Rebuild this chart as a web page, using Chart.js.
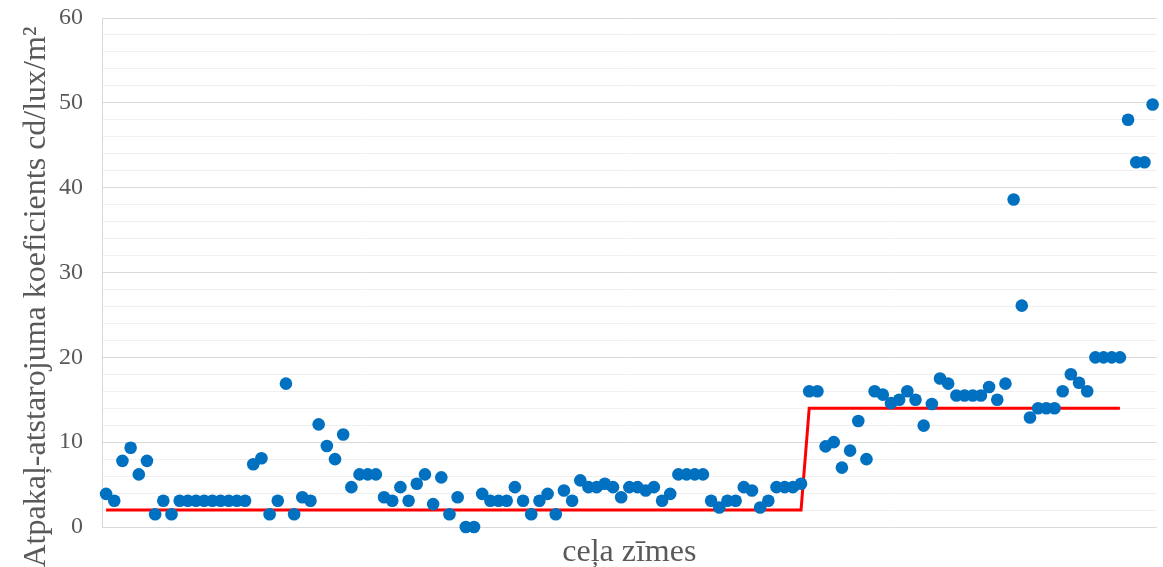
<!DOCTYPE html>
<html>
<head>
<meta charset="utf-8">
<title>Atpakaļ-atstarojuma koeficients</title>
<script src="https://cdn.jsdelivr.net/npm/chart.js@4.4.1/dist/chart.umd.min.js"></script>
<style>
  html, body { margin: 0; padding: 0; background: #ffffff; }
  #wrap { position: relative; width: 1163px; height: 567px; }
</style>
</head>
<body>
<div id="wrap"><canvas id="chart" width="1163" height="567"></canvas></div>
<script>
// Measured retroreflection coefficient of each road sign, cd/lux/m²
const retro = [
  3.9, 3.1, 7.8, 9.35, 6.2, 7.8, 1.5, 3.1, 1.5, 3.1,
  3.1, 3.1, 3.1, 3.1, 3.1, 3.1, 3.1, 3.1, 7.4, 8.1,
  1.5, 3.1, 16.9, 1.5, 3.5, 3.1, 12.1, 9.55, 8.0, 10.9,
  4.7, 6.2, 6.2, 6.2, 3.5, 3.1, 4.7, 3.1, 5.1, 6.2,
  2.7, 5.85, 1.5, 3.5, 0, 0, 3.9, 3.1, 3.1, 3.1,
  4.7, 3.1, 1.5, 3.1, 3.9, 1.5, 4.3, 3.1, 5.5, 4.7,
  4.7, 5.1, 4.7, 3.5, 4.7, 4.7, 4.3, 4.7, 3.1, 3.9,
  6.2, 6.2, 6.2, 6.2, 3.1, 2.3, 3.1, 3.1, 4.7, 4.3,
  2.3, 3.1, 4.7, 4.7, 4.7, 5.1, 16.0, 16.0, 9.5, 10.0,
  7.0, 9.0, 12.5, 8.0, 16.0, 15.6, 14.6, 15.0, 16.0, 15.0,
  11.95, 14.5, 17.5, 16.9, 15.5, 15.5, 15.5, 15.5, 16.5, 15.0,
  16.9, 38.6, 26.1, 12.9, 14.0, 14.0, 14.0, 16.0, 18.0, 17.0,
  16.0, 20.0, 20.0, 20.0, 20.0, 48.0, 43.0, 43.0, 49.8
];

// Sign numbers (category positions along the horizontal axis)
const signs = retro.map((_, i) => i + 1);

// Minimum required coefficient: step from the first group of signs to the second
const limitSigns = [1, 86, 87, 125];
const limitValues = [2, 2, 14, 14];

// Labelled values on the vertical axis
const yTickLabels = [0, 10, 20, 30, 40, 50, 60];

const xTitle = 'ceļa zīmes';
const yTitle = 'Atpakaļ-atstarojuma koeficients cd/lux/m²';

const serif = "'Liberation Serif', 'Times New Roman', serif";
const textGrey = '#595959';

const pointsData = signs.map((s, i) => ({ x: s, y: retro[i] }));
const limitData = limitSigns.map((s, i) => ({ x: s, y: limitValues[i] }));

// Rotated vertical axis title, placed alongside the whole chart height
const yTitlePlugin = {
  id: 'yTitle',
  afterDraw(chart) {
    const ctx = chart.ctx;
    ctx.save();
    ctx.translate(45, 297);
    ctx.rotate(-Math.PI / 2);
    ctx.font = '32px ' + serif;
    ctx.fillStyle = textGrey;
    ctx.textAlign = 'center';
    ctx.textBaseline = 'alphabetic';
    ctx.fillText(yTitle, 0, 0);
    ctx.restore();
  }
};

new Chart(document.getElementById('chart'), {
  type: 'scatter',
  data: {
    datasets: [
      {
        label: 'koeficients',
        data: pointsData,
        backgroundColor: '#0070C0',
        borderColor: '#0070C0',
        borderWidth: 0,
        pointRadius: 6.3,
        pointHoverRadius: 6.3,
        showLine: false,
        clip: false,
        order: 0
      },
      {
        label: 'prasība',
        type: 'line',
        data: limitData,
        borderColor: '#FF0000',
        borderWidth: 3,
        borderJoinStyle: 'miter',
        pointRadius: 0,
        pointHoverRadius: 0,
        fill: false,
        tension: 0,
        order: 1
      }
    ]
  },
  options: {
    responsive: false,
    animation: false,
    events: [],
    layout: { padding: { top: 18, right: 6, bottom: 0, left: 0 } },
    plugins: {
      legend: { display: false },
      tooltip: { enabled: false }
    },
    scales: {
      x: {
        type: 'linear',
        min: 0.5,
        max: signs.length + 0.5,
        grid: { display: false },
        border: { display: false },
        ticks: { display: false },
        title: {
          display: true,
          text: xTitle,
          color: textGrey,
          font: { family: serif, size: 32, lineHeight: 1.0 },
          padding: { top: 0, bottom: -2 }
        },
        afterFit(scale) { scale.height = 40; }
      },
      y: {
        min: 0,
        max: 60,
        grid: {
          drawTicks: false,
          lineWidth: 1,
          color: (c) => (c.tick && yTickLabels.includes(c.tick.value)) ? '#d9d9d9' : '#f0f0f0'
        },
        border: { display: true, color: '#d9d9d9', width: 1 },
        ticks: {
          stepSize: 2,
          autoSkip: false,
          padding: 19,
          color: textGrey,
          font: { family: serif, size: 24 },
          callback: (v) => yTickLabels.includes(v) ? String(v) : ''
        },
        title: { display: false },
        afterFit(scale) {
          scale.width = 102;
          scale.paddingTop = 0;
          scale.paddingBottom = 0;
        }
      }
    }
  },
  plugins: [yTitlePlugin]
});
</script>
</body>
</html>
